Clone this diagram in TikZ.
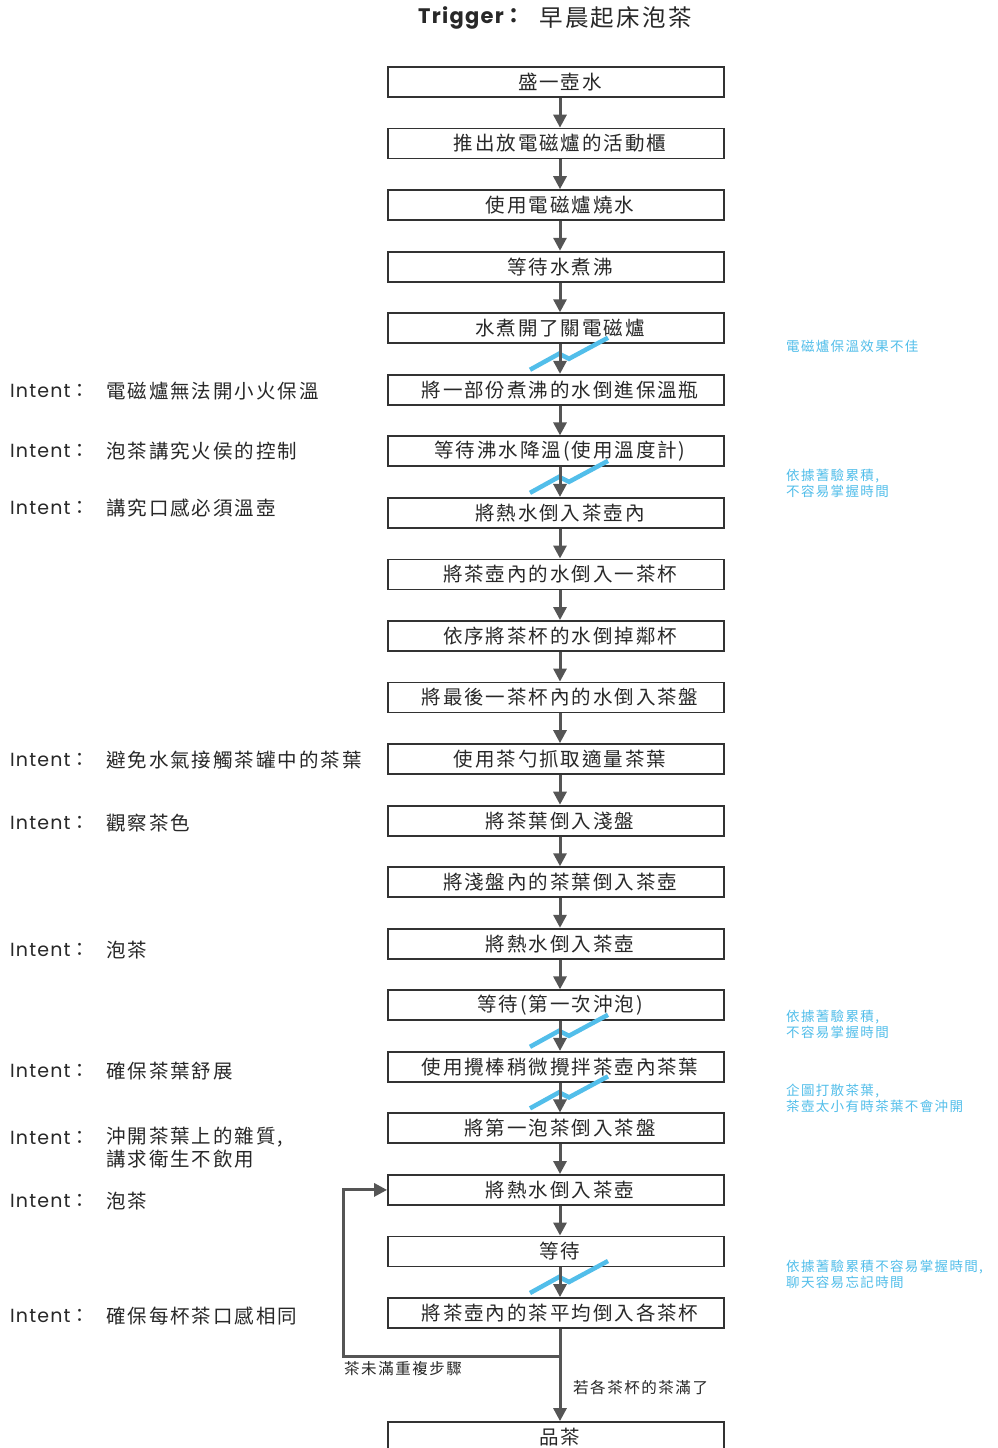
\documentclass[tikz,border=0pt]{standalone}
\usepackage{fontspec}
\setmainfont{Noto Sans CJK TC}
\newfontfamily\cjk[LetterSpace=10]{Noto Sans CJK TC}
\newfontfamily\cjkb[LetterSpace=10]{Noto Sans CJK TC}
\newfontfamily\lat[LetterSpace=6]{Poppins}
\usetikzlibrary{arrows.meta}
\definecolor{boxc}{RGB}{50,50,50}
\definecolor{arrc}{RGB}{85,85,85}
\definecolor{txtc}{RGB}{40,40,40}
\definecolor{bluec}{RGB}{82,190,234}
\newcommand\boxfont{\cjk\fontsize{19.5}{21}\selectfont}
\newcommand\notefont{\cjkb\fontsize{13.5}{16}\selectfont}
\tikzset{
  stepbox/.style={draw=boxc, line width=1.8pt, fill=white, minimum width=336pt,
    minimum height=30pt, inner sep=0pt, font=\boxfont, text=txtc,
    execute at begin node={\kern8pt}},
  arr/.style={draw=arrc, line width=3pt, -{Triangle[length=13pt,width=13pt]}},
  bolt/.style={draw=bluec, line width=4.5pt},
  intent/.style={anchor=west, inner sep=0pt, text=txtc, font=\lat\fontsize{19}{22}\selectfont},
  intenttxt/.style={anchor=west, inner sep=0pt, text=txtc, align=left, font=\boxfont},
  note/.style={anchor=west, inner sep=0pt, text=bluec, align=left, font=\notefont},
  looplbl/.style={anchor=west, inner sep=0pt, text=txtc, font=\cjk\fontsize{15.5}{17}\selectfont},
}
\begin{document}
\begin{tikzpicture}[x=1pt,y=-1pt]
\clip (0,0) rectangle (997,1448);
\fill[white] (0,0) rectangle (997,1448);
% title
\node[anchor=west, inner sep=0pt, text=txtc, font=\lat\bfseries\fontsize{21}{24}\selectfont] (trig) at (418,18) {Trigger{\cjk：}};
\node[anchor=west, inner sep=0pt, text=txtc, font=\cjk\fontsize{23.5}{26}\selectfont] (trigtxt) at (539,18) {早晨起床泡茶};
% boxes
\foreach \t [count=\i] in {盛一壺水,推出放電磁爐的活動櫃,使用電磁爐燒水,等待水煮沸,水煮開了關電磁爐,將一部份煮沸的水倒進保溫瓶,等待沸水降溫(使用溫度計),將熱水倒入茶壺內,將茶壺內的水倒入一茶杯,依序將茶杯的水倒掉鄰杯,將最後一茶杯內的水倒入茶盤,使用茶勺抓取適量茶葉,將茶葉倒入淺盤,將淺盤內的茶葉倒入茶壺,將熱水倒入茶壺,等待(第一次沖泡),使用攪棒稍微攪拌茶壺內茶葉,將第一泡茶倒入茶盤,將熱水倒入茶壺,等待,將茶壺內的茶平均倒入各茶杯}
  \node[stepbox] (b\i) at (556,{82+(\i-1)*61.55}) {\t};
\node[stepbox] (b22) at (556,1437) {品茶};
% bolts
\foreach \k in {6,8,17,18,21}
  \draw[bolt] (530,{82+(\k-1)*61.55-20}) -- (559,{82+(\k-1)*61.55-36}) -- (569,{82+(\k-1)*61.55-31}) -- (608,{82+(\k-1)*61.55-52});
% arrows
\foreach \i [evaluate=\i as \j using int(\i+1)] in {1,...,20}
  \draw[arr] ([xshift=4pt]b\i.south) -- ([xshift=4pt]b\j.north);
\coordinate (jn) at ([xshift=4pt]b21.south |- 0,1356);
\coordinate (lc) at (343,1356);
\draw[arr] ([xshift=4pt]b21.south) -- ([xshift=4pt]b22.north);
\draw[arr] (jn) -- (lc) |- (b19.west);
\node[looplbl] (l1) at (344,1369) {茶未滿重複步驟};
\node[looplbl] (l2) at (573,1388) {若各茶杯的茶滿了};
% intents
\foreach \y/\t [count=\n] in {391/電磁爐無法開小火保溫,451/泡茶講究火侯的控制,508/講究口感必須溫壺,760/避免水氣接觸茶罐中的茶葉,823/觀察茶色,950/泡茶,1071/確保茶葉舒展,1201/泡茶,1316/確保每杯茶口感相同}{
  \node[intent] (i\n) at (10,\y) {Intent{\cjk：}};
  \node[intenttxt] (it\n) at (106,\y) {\t};
}
\node[intent] (i10) at (10,1138) {Intent{\cjk：}};
\node[intenttxt, anchor=north west, font=\cjk\fontsize{19.5}{23}\selectfont] (it10) at (106,1127) {沖開茶葉上的雜質,\\講求衛生不飲用};
% notes
\node[note] (n1) at (786,346) {電磁爐保溫效果不佳};
\node[note] (n2) at (786,483) {依據蓍驗累積,\\不容易掌握時間};
\node[note] (n3) at (786,1024) {依據蓍驗累積,\\不容易掌握時間};
\node[note] (n4) at (786,1098) {企圖打散茶葉,\\茶壺太小有時茶葉不會沖開};
\node[note] (n5) at (786,1274) {依據蓍驗累積不容易掌握時間,\\聊天容易忘記時間};
\end{tikzpicture}
\end{document}
